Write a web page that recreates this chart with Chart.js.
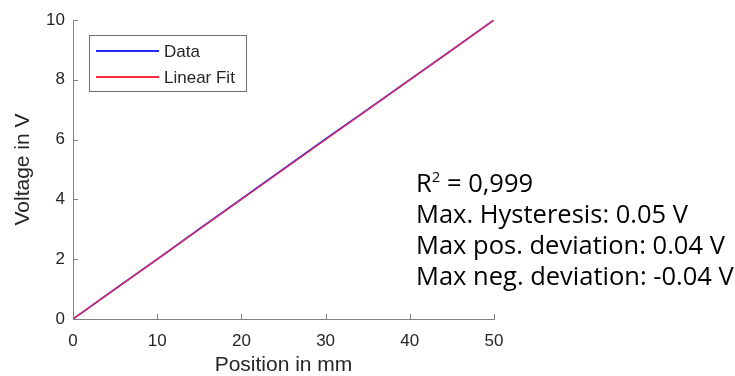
<!DOCTYPE html>
<html><head><meta charset="utf-8">
<script src="https://cdn.jsdelivr.net/npm/chart.js@4.4.0/dist/chart.umd.min.js"></script>
<style>html,body{margin:0;padding:0;background:#fff}#c{display:block}</style>
</head><body>
<canvas id="c" width="735" height="376"></canvas>
<script>
const positions = [0, 5, 10, 15, 20, 25, 30, 35, 40, 45, 50];
const voltage   = [0, 1.00, 2.00, 3.01, 4.01, 5.02, 6.02, 7.01, 8.00, 9.00, 10.00];
const fitPositions = [0, 50];
const fitVoltage   = [0, 10];
const xTicks = [0, 10, 20, 30, 40, 50];
const yTicks = [0, 2, 4, 6, 8, 10];
const seriesNames = ['Data', 'Linear Fit'];
const seriesColors = ['rgb(40,40,255)', 'rgb(255,40,60)'];
const rSquared = '0,999';
const statLines = ['Max. Hysteresis: 0.05 V', 'Max pos. deviation: 0.04 V', 'Max neg. deviation: -0.04 V'];

const AX = '#808080', TXT = '#262626';
const tickFont = {family: 'Liberation Sans, Arial, sans-serif', size: 17};
const titleFont = {family: 'Liberation Sans, Arial, sans-serif', size: 21};

const inwardTicks = {
  id: 'inwardTicks',
  afterDraw(chart) {
    const ctx = chart.ctx, a = chart.chartArea;
    const xs = chart.scales.x, ys = chart.scales.y;
    ctx.save();
    ctx.strokeStyle = AX; ctx.lineWidth = 1;
    ctx.beginPath();
    xTicks.forEach(v => { const p = Math.round(xs.getPixelForValue(v)) + 0.5; ctx.moveTo(p, a.bottom); ctx.lineTo(p, a.bottom - 5); });
    yTicks.forEach(v => { const p = Math.round(ys.getPixelForValue(v)) + 0.5; ctx.moveTo(a.left, p); ctx.lineTo(a.left + 5, p); });
    ctx.stroke();
    // legend
    const lx = 89.5, ly = 35.5, lw = 157, lh = 56;
    ctx.fillStyle = '#fff'; ctx.fillRect(lx, ly, lw, lh);
    ctx.strokeStyle = '#6e6e6e'; ctx.lineWidth = 1; ctx.strokeRect(lx, ly, lw, lh);
    ctx.font = '17px "Liberation Sans", Arial, sans-serif';
    ctx.textBaseline = 'middle'; ctx.textAlign = 'left';
    seriesNames.forEach((name, i) => {
      const y = 51 + i * 26;
      ctx.strokeStyle = seriesColors[i]; ctx.lineWidth = 2;
      ctx.beginPath(); ctx.moveTo(96, y); ctx.lineTo(159, y); ctx.stroke();
      ctx.fillStyle = TXT; ctx.fillText(name, 164, y + 1);
    });
    // annotation text
    ctx.fillStyle = '#000'; ctx.textBaseline = 'alphabetic';
    const f = 25.5, fam = '"Open Sans", sans-serif';
    ctx.font = f + 'px ' + fam;
    let x = 416, y0 = 192;
    ctx.fillText('R', x, y0);
    let w = ctx.measureText('R').width;
    ctx.font = Math.round(f * 0.6) + 'px ' + fam;
    ctx.fillText('2', x + w, y0 - 10);
    const w2 = ctx.measureText('2').width;
    ctx.font = f + 'px ' + fam;
    ctx.fillText(' = ' + rSquared, x + w + w2, y0);
    statLines.forEach((s, i) => ctx.fillText(s, x, y0 + 31 * (i + 1)));
    ctx.restore();
  }
};

new Chart(document.getElementById('c'), {
  type: 'line',
  data: {
    datasets: [
      {label: seriesNames[0], order: 1, data: positions.map((p, i) => ({x: p, y: voltage[i]})), borderColor: seriesColors[0], borderWidth: 1.8, pointRadius: 0, tension: 0},
      {label: seriesNames[1], order: 0, data: fitPositions.map((p, i) => ({x: p, y: fitVoltage[i]})), borderColor: seriesColors[1], borderWidth: 1.1, pointRadius: 0, tension: 0}
    ]
  },
  options: {
    responsive: false, animation: false, devicePixelRatio: 1,
    layout: {padding: {left: 0, top: 20, right: 241, bottom: 0}},
    plugins: {legend: {display: false}, tooltip: {enabled: false}},
    scales: {
      x: {
        type: 'linear', min: 0, max: 50,
        afterBuildTicks: s => { s.ticks = xTicks.map(v => ({value: v})); },
        afterFit: s => { s.height = 57; },
        grid: {display: false, drawTicks: false},
        border: {display: true, color: AX, width: 1},
        ticks: {font: tickFont, color: TXT, padding: 12, maxRotation: 0},
        title: {display: true, text: 'Position in mm', font: titleFont, color: TXT, padding: {top: 0, bottom: -2}}
      },
      y: {
        type: 'linear', min: 0, max: 10,
        afterBuildTicks: s => { s.ticks = yTicks.map(v => ({value: v})); },
        afterFit: s => { s.width = 73; },
        grid: {display: false, drawTicks: false},
        border: {display: true, color: AX, width: 1},
        ticks: {font: tickFont, color: TXT, padding: 8},
        title: {display: true, text: 'Voltage in V', font: titleFont, color: TXT, padding: {top: 11, bottom: 0}}
      }
    }
  },
  plugins: [inwardTicks]
});
</script>
</body></html>
